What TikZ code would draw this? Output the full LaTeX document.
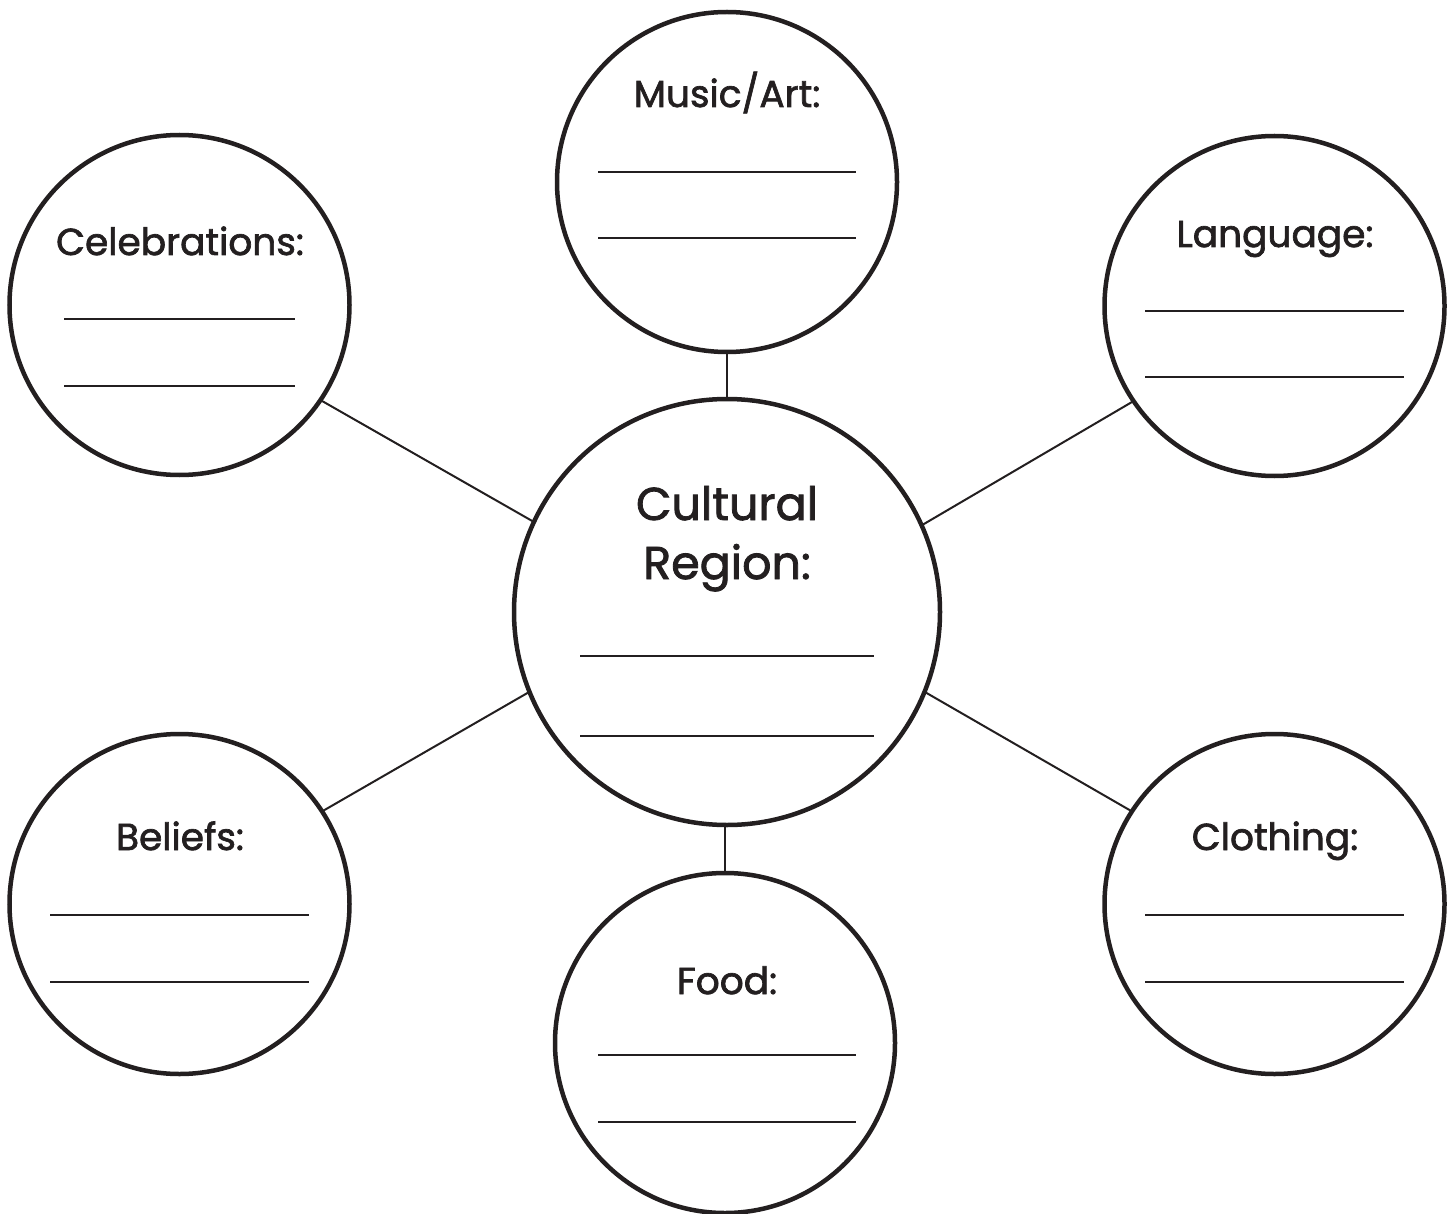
\documentclass[tikz,border=0pt]{standalone}
\usepackage{fontspec}
\setmainfont{Poppins}
\newfontfamily\lblfont{Poppins}[FakeBold=1.8]
\definecolor{ink}{HTML}{231F20}
\tikzset{
  bubble/.style={circle, draw=ink, line width=4.5pt, inner sep=0pt, outer sep=0pt, minimum size=340pt},
  hub/.style={circle, draw=ink, line width=4.5pt, inner sep=0pt, outer sep=0pt, minimum size=426pt},
  link/.style={draw=ink, line width=2pt},
  blank/.style={draw=ink, line width=2.5pt},
  lbl/.style={anchor=base, inner sep=0pt, text=ink, font=\lblfont\fontsize{37.5}{45}\selectfont},
  hublbl/.style={anchor=base, inner sep=0pt, text=ink, font=\lblfont\fontsize{46}{55}\selectfont}
}
\begin{document}
\begin{tikzpicture}[x=1pt,y=-1pt]
\useasboundingbox (0,0) rectangle (1455,1214);
% circles
\node[hub] (hubc) at (727,612) {};
\node[bubble] (music) at (727,182) {};
\node[bubble] (celeb) at (179.5,305) {};
\node[bubble] (lang) at (1274.5,306) {};
\node[bubble] (belief) at (179.5,904) {};
\node[bubble] (food) at (725,1043) {};
\node[bubble] (cloth) at (1274.5,904) {};
% connectors
\draw[link] (music.south) -- (music.south |- hubc.north);
\draw[link] (food.north) -- (food.north |- hubc.south);
\draw[link] (celeb.-34.6) -- (hubc.155.6);
\draw[link] (belief.33.3) -- (hubc.202.4);
\draw[link] (lang.214.2) -- (hubc.24.5);
\draw[link] (cloth.147.1) -- (hubc.-22.5);
% labels
\node[lbl] (tmusic) at (727,107) {Music/Art:};
\node[lbl] (tceleb) at (180,255) {Celebrations:};
\node[lbl] (tlang) at (1275,247) {Language:};
\node[lbl] (tbelief) at (180,850) {Beliefs:};
\node[lbl] (tfood) at (727,994) {Food:};
\node[lbl] (tcloth) at (1275,850) {Clothing:};
\node[hublbl] (thub1) at (727,520) {Cultural};
\node[hublbl] (thub2) at (727,579) {Region:};
% blank lines
\draw[blank] (598,172) -- (856,172);
\draw[blank] (598,238) -- (856,238);
\draw[blank] (64,319) -- (295,319);
\draw[blank] (64,386) -- (295,386);
\draw[blank] (1145,311) -- (1404,311);
\draw[blank] (1145,377) -- (1404,377);
\draw[blank] (580,656) -- (874,656);
\draw[blank] (580,736) -- (874,736);
\draw[blank] (50,915) -- (309,915);
\draw[blank] (50,982) -- (309,982);
\draw[blank] (598,1055) -- (856,1055);
\draw[blank] (598,1122) -- (856,1122);
\draw[blank] (1145,915) -- (1404,915);
\draw[blank] (1145,982) -- (1404,982);
\end{tikzpicture}
\end{document}
